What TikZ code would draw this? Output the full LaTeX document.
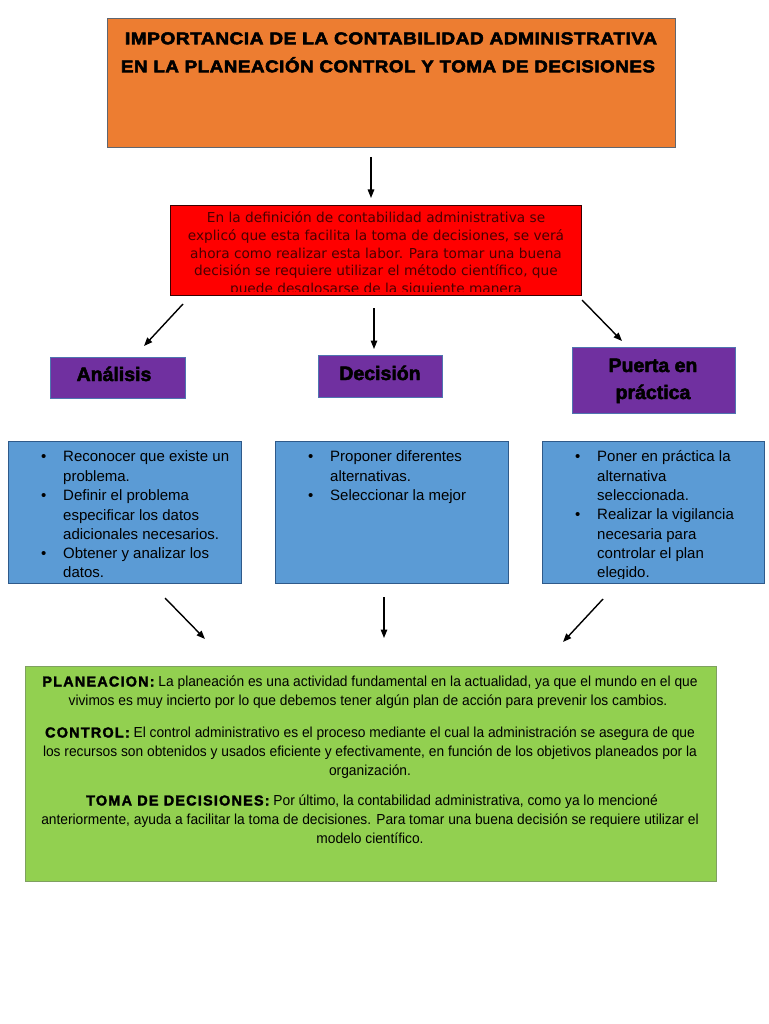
\documentclass[tikz,border=0pt]{standalone}
\usepackage{fontspec}
\setmainfont{Liberation Sans}
\newfontfamily\heavyfont[LetterSpace=3,FakeBold=3]{Liberation Sans}
\newfontfamily\purplefont[FakeBold=2.5]{Liberation Sans}
\newfontfamily\narrowfont[FakeStretch=0.95]{Liberation Sans}
\newfontfamily\headfont[LetterSpace=8,FakeBold=2]{Liberation Sans}
\newfontfamily\dejavu{DejaVu Sans}
\newcommand\gheadfmt{\headfont\bfseries}
\newcommand\titlefmt{\heavyfont\bfseries\fontsize{17}{19}\selectfont}
\usetikzlibrary{arrows.meta}
\definecolor{orangefill}{HTML}{ED7D31}
\definecolor{orangeline}{HTML}{5F6670}
\definecolor{redfill}{HTML}{FF0000}
\definecolor{redline}{HTML}{3A0000}
\definecolor{redtext}{HTML}{4A0000}
\definecolor{purplefill}{HTML}{7030A0}
\definecolor{purpleline}{HTML}{4F75B0}
\definecolor{bluefill}{HTML}{5B9BD5}
\definecolor{blueline}{HTML}{2F5A8A}
\definecolor{greenfill}{HTML}{92D050}
\definecolor{greenline}{HTML}{7FA060}
\begin{document}
\begin{tikzpicture}[x=1pt,y=-1pt,
  box/.style={draw, line width=1pt, inner sep=0, anchor=north west},
  arr/.style={-{Triangle[length=8.5pt,width=6.5pt]}, line width=1.4pt, black},
  titleline/.style={inner sep=0, text height=12.5pt, text depth=0pt},
  redline/.style={inner sep=0, font=\dejavu\fontsize{13.7}{15}\selectfont, text=redtext, text height=10pt, text depth=3pt},
  purpletext/.style={inner sep=0, font=\purplefont\bfseries\fontsize{19.5}{22}\selectfont, text height=14pt, text depth=4pt},
  blueline/.style={inner sep=0, anchor=west, font=\fontsize{15}{17}\selectfont, text height=10.5pt, text depth=3pt},
  greenline/.style={inner sep=0, font=\narrowfont\fontsize{14.5}{16}\selectfont, text height=10pt, text depth=3pt}
]
\useasboundingbox (0,0) rectangle (768,1024);
\fill[white] (0,0) rectangle (768,1024);

% ---- title box
\node[box, fill=orangefill, draw=orangeline, minimum width=568pt, minimum height=129pt] (title) at (107,18) {};
\node[titleline] (t1) at (391,38) {\resizebox{532pt}{\height}{\titlefmt IMPORTANCIA DE LA CONTABILIDAD ADMINISTRATIVA}};
\node[titleline] (t2) at (388,66) {\resizebox{534pt}{\height}{\titlefmt EN LA PLANEACIÓN CONTROL Y TOMA DE DECISIONES}};

% ---- arrow 1
\coordinate (a1s) at (371,157);
\coordinate (a1e) at (371,198);
\draw[arr] (a1s) -- (a1e);

% ---- red box
\node[box, fill=redfill, draw=redline, minimum width=411pt, minimum height=90pt] (intro) at (170,205) {};
\begin{scope}
\clip (172,207) rectangle (579,291);
\node[redline] (r1) at (376,219) {En la definición de contabilidad administrativa se};
\node[redline] (r2) at (376,237) {explicó que esta facilita la toma de decisiones, se verá};
\node[redline] (r3) at (376,255) {ahora como realizar esta labor. Para tomar una buena};
\node[redline] (r4) at (376,272) {decisión se requiere utilizar el método científico, que};
\node[redline] (r5) at (376,290) {puede desglosarse de la siguiente manera};
\end{scope}

% ---- arrows to purple boxes
\coordinate (a2s) at (183,304);
\coordinate (a2e) at (144,346);
\draw[arr] (a2s) -- (a2e);
\coordinate (a3s) at (374,308);
\coordinate (a3e) at (374,349);
\draw[arr] (a3s) -- (a3e);
\coordinate (a4s) at (582,300);
\coordinate (a4e) at (622,341);
\draw[arr] (a4s) -- (a4e);

% ---- purple boxes
\node[box, fill=purplefill, draw=purpleline, minimum width=135pt, minimum height=41pt] (analisis) at (50,357) {};
\node[purpletext] (analisisT) at (114,376) {Análisis};
\node[box, fill=purplefill, draw=purpleline, minimum width=124pt, minimum height=42pt] (decision) at (318,355) {};
\node[purpletext] (decisionT) at (380,375) {Decisión};
\node[box, fill=purplefill, draw=purpleline, minimum width=163pt, minimum height=66pt] (puerta) at (572,347) {};
\node[purpletext] (puertaT1) at (653,367) {Puerta en};
\node[purpletext] (puertaT2) at (653,394) {práctica};

% ---- blue boxes
\node[box, fill=bluefill, draw=blueline, minimum width=233pt, minimum height=142pt] (b1) at (8,441) {};
\node[box, fill=bluefill, draw=blueline, minimum width=233pt, minimum height=142pt] (b2) at (275,441) {};
\node[box, fill=bluefill, draw=blueline, minimum width=222pt, minimum height=142pt] (b3) at (542,441) {};

\begin{scope}
\clip (9,442) rectangle (240,578);
\node[blueline] (b1d1) at (41,458) {\textbullet};
\node[blueline] (b1l1) at (63,458) {Reconocer que existe un};
\node[blueline] (b1l2) at (63,478) {problema.};
\node[blueline] (b1d2) at (41,497) {\textbullet};
\node[blueline] (b1l3) at (63,497) {Definir el problema};
\node[blueline] (b1l4) at (63,517) {especificar los datos};
\node[blueline] (b1l5) at (63,536) {adicionales necesarios.};
\node[blueline] (b1d3) at (41,555) {\textbullet};
\node[blueline] (b1l6) at (63,555) {Obtener y analizar los};
\node[blueline] (b1l7) at (63,574) {datos.};
\end{scope}

\node[blueline] (b2d1) at (308,458) {\textbullet};
\node[blueline] (b2l1) at (330,458) {Proponer diferentes};
\node[blueline] (b2l2) at (330,478) {alternativas.};
\node[blueline] (b2d2) at (308,497) {\textbullet};
\node[blueline] (b2l3) at (330,497) {Seleccionar la mejor};

\begin{scope}
\clip (543,442) rectangle (763,578);
\node[blueline] (b3d1) at (575,458) {\textbullet};
\node[blueline] (b3l1) at (597,458) {Poner en práctica la};
\node[blueline] (b3l2) at (597,478) {alternativa};
\node[blueline] (b3l3) at (597,497) {seleccionada.};
\node[blueline] (b3d2) at (575,516) {\textbullet};
\node[blueline] (b3l4) at (597,516) {Realizar la vigilancia};
\node[blueline] (b3l5) at (597,536) {necesaria para};
\node[blueline] (b3l6) at (597,555) {controlar el plan};
\node[blueline] (b3l7) at (597,574) {elegido.};
\end{scope}

% ---- arrows to green box
\coordinate (a5s) at (165,598);
\coordinate (a5e) at (205,639);
\draw[arr] (a5s) -- (a5e);
\coordinate (a6s) at (384,597);
\coordinate (a6e) at (384,638);
\draw[arr] (a6s) -- (a6e);
\coordinate (a7s) at (603,599);
\coordinate (a7e) at (563,642);
\draw[arr] (a7s) -- (a7e);

% ---- green box
\node[box, fill=greenfill, draw=greenline, minimum width=691pt, minimum height=215pt] (summary) at (25,666) {};
\node[greenline] (g1) at (370,683) {{\gheadfmt PLANEACION:} La planeación es una actividad fundamental en la actualidad, ya que el mundo en el que};
\node[greenline] (g2) at (368,702) {vivimos es muy incierto por lo que debemos tener algún plan de acción para prevenir los cambios.};
\node[greenline] (g3) at (370,734) {{\gheadfmt CONTROL:} El control administrativo es el proceso mediante el cual la administración se asegura de que};
\node[greenline] (g4) at (370,753) {los recursos son obtenidos y usados eficiente y efectivamente, en función de los objetivos planeados por la};
\node[greenline] (g5) at (370,772) {organización.};
\node[greenline] (g6) at (372,802) {{\gheadfmt TOMA DE DECISIONES:} Por último, la contabilidad administrativa, como ya lo mencioné};
\node[greenline] (g7) at (370,821) {anteriormente, ayuda a facilitar la toma de decisiones. Para tomar una buena decisión se requiere utilizar el};
\node[greenline] (g8) at (370,840) {modelo científico.};
\end{tikzpicture}
\end{document}
